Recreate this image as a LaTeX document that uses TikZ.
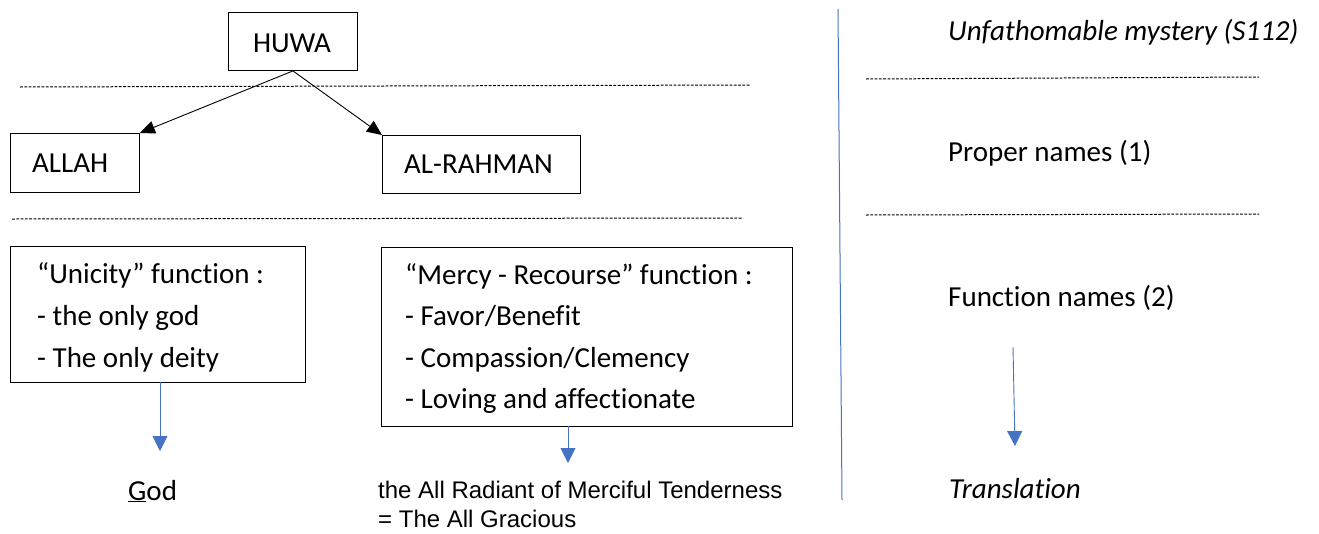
\documentclass[tikz,border=0pt]{standalone}
\usepackage{fontspec}
\setmainfont[Ligatures={NoCommon}]{Carlito}
\newfontfamily\arialf[Ligatures={NoCommon}]{Liberation Sans}
\usetikzlibrary{arrows.meta}
\definecolor{arrowblue}{HTML}{4472C4}
\begin{document}
\begin{tikzpicture}[x=1pt,y=-1pt,
  box/.style={draw=black,line width=0.9pt,inner sep=0pt,anchor=north west},
  txt/.style={inner sep=0pt,anchor=base west,font=\fontsize{29}{35}\selectfont},
  itxt/.style={txt,font=\fontsize{29}{35}\selectfont\itshape},
  atxt/.style={inner sep=0pt,anchor=base west,font=\fontsize{24}{29}\selectfont\arialf},
  sep/.style={draw=black,line width=1pt,dash pattern=on 2.8pt off 1.5pt},
  blackarrow/.style={draw=black,line width=0.9pt,-{Triangle[length=15pt,width=13pt]}},
  bluearrow/.style={draw=arrowblue,line width=0.9pt,-{Triangle[length=15pt,width=15pt]}},
  bluerule/.style={draw=arrowblue,line width=1pt}]
\useasboundingbox (0,0) rectangle (1319,533);
% boxes
\node[box,minimum width=129pt,minimum height=58pt] (huwa) at (228,12) {};
\node[txt,anchor=base] (huwat) at (292,52) {HUWA};
\node[box,minimum width=129pt,minimum height=59pt] (allah) at (10,133) {};
\node[txt] (allaht) at (32,172) {ALLAH};
\node[box,minimum width=198pt,minimum height=58pt] (rahman) at (382,135) {};
\node[txt] (rahmant) at (404,173) {AL-RAHMAN};
\node[box,minimum width=295pt,minimum height=136pt] (uni) at (10,246) {};
\node[txt] (uni1) at (37,283) {“Unicity” function :};
\node[txt] (uni2) at (37,325) {- the only god};
\node[txt] (uni3) at (37,367) {- The only deity};
\node[box,minimum width=411pt,minimum height=179pt] (mercy) at (381,247) {};
\node[txt] (mer1) at (405,284) {“Mercy - Recourse\symbol{34} function :};
\node[txt] (mer2) at (405,325) {- Favor/Benefit};
\node[txt] (mer3) at (405,367) {- Compassion/Clemency};
\node[txt] (mer4) at (405,408) {- Loving and affectionate};
% bottom texts
\node[txt] (god) at (128,500) {\underline{G}od};
\node[atxt] (radiant) at (378,498) {the All Radiant of Merciful Tenderness};
\node[atxt] (gracious) at (378,527) {= The All Gracious};
% right column
\node[itxt] (mystery) at (948,40) {Unfathomable mystery (S112)};
\node[txt] (proper) at (948,161) {Proper names (1)};
\node[txt] (function) at (948,306) {Function names (2)};
\node[itxt] (translation) at (949,498) {Translation};
% separators
\draw[sep] (20,87) -- (750,85);
\draw[sep] (12,219) -- (743,218);
\draw[sep] (866,79) -- (1259,77);
\draw[sep] (866,215) -- (1259,214);
\draw[bluerule] (838,9) -- (842,500);
% connectors
\draw[blackarrow] (huwa.south) -- (allah.north east);
\draw[blackarrow] (huwa.south) -- (rahman.north west);
\coordinate (unibot) at (160,382);
\coordinate (godtip) at (160,451);
\draw[bluearrow] (unibot) -- (godtip);
\coordinate (merbot) at (568,426);
\coordinate (radtip) at (568,463);
\draw[bluearrow] (merbot) -- (radtip);
\coordinate (fnstart) at (1013,347);
\coordinate (trtip) at (1015,446);
\draw[bluearrow] (fnstart) -- (trtip);
\end{tikzpicture}
\end{document}
